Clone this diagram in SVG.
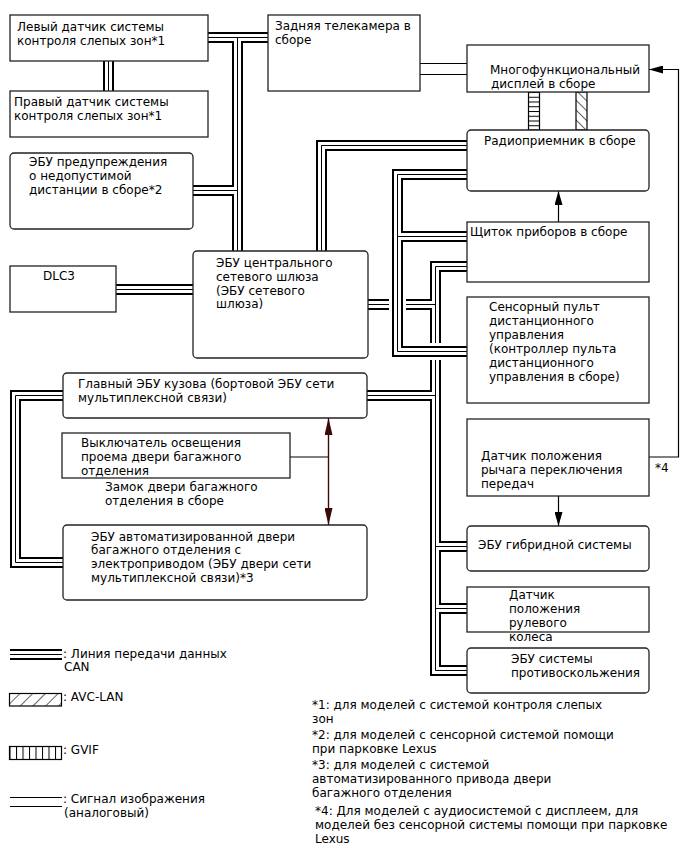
<svg xmlns="http://www.w3.org/2000/svg" width="688" height="852" viewBox="0 0 688 852">
<style>
text{font-family:"DejaVu Sans","Noto Sans",sans-serif;font-size:12px;fill:#000}
.box{fill:#fff;stroke:#222;stroke-width:1.3}
.co{fill:none;stroke:#000;stroke-width:11}
.cw{fill:none;stroke:#fff;stroke-width:7}
.ct{fill:none;stroke:#000;stroke-width:1}
.halo{fill:none;stroke:#fff;stroke-width:17}
.ln{fill:none;stroke:#000;stroke-width:1.2}
.mr{fill:none;stroke:#3a0a0a;stroke-width:1.4}
.strip{stroke:#000;stroke-width:1.2}
</style>
<defs>
<marker id="ah" viewBox="0 0 14 8" refX="14" refY="4" markerWidth="14" markerHeight="8" markerUnits="userSpaceOnUse" orient="auto"><path d="M0,0 L14,4 L0,8 z" fill="#000"/></marker>
<marker id="am" viewBox="0 0 17 8" refX="17" refY="4" markerWidth="17" markerHeight="8" markerUnits="userSpaceOnUse" orient="auto-start-reverse"><path d="M0,0 L17,4 L0,8 z" fill="#3a0a0a"/></marker>
<pattern id="gvifH" patternUnits="userSpaceOnUse" width="20" height="4.75" x="0" y="92"><line x1="0" y1="0.5" x2="20" y2="0.5" stroke="#000" stroke-width="1"/></pattern>
<pattern id="gvifV" patternUnits="userSpaceOnUse" width="6.5" height="20" x="9.5" y="0"><line x1="0.5" y1="0" x2="0.5" y2="20" stroke="#000" stroke-width="1"/></pattern>
<pattern id="avcD" patternUnits="userSpaceOnUse" width="7" height="7" patternTransform="rotate(-45)"><line x1="0" y1="0" x2="0" y2="7" stroke="#000" stroke-width="1.2"/></pattern>
<pattern id="avcL" patternUnits="userSpaceOnUse" width="9" height="9" patternTransform="rotate(45)"><line x1="0" y1="0" x2="0" y2="9" stroke="#000" stroke-width="1.2"/></pattern>
<g id="busMain">
<path d="M208,37.5 H268 M237.5,37.5 V251 M193,190.5 H237.5 M108.5,61 V91"/>
<path d="M116,289.5 H193"/>
<path d="M321.5,251 V145.5 H467"/>
<path d="M63,395.5 H15.5 V562.5 H63"/>
<path d="M467,266.5 H435.5 V670.5 H467 M368,304.5 H435.5 M367,395.5 H435.5 M435.5,546.5 H467 M435.5,608.5 H467"/>
<path d="M10,654.5 H62"/>
</g>
<g id="busTop">
<path d="M467,174.5 H397.5 V351.5 H467 M397.5,236.5 H467"/>
</g>
</defs>

<g id="connectors">
<use href="#busMain" class="co"/>
<use href="#busMain" class="cw"/>
<use href="#busMain" class="ct"/>
<use href="#busTop" class="halo"/>
<use href="#busTop" class="co"/>
<use href="#busTop" class="cw"/>
<use href="#busTop" class="ct"/>
<path class="ln" d="M420,63.5 H467 M420,74.5 H467"/>
<rect class="strip" x="528.5" y="92" width="11" height="38" fill="url(#gvifH)"/>
<rect class="strip" x="576" y="92" width="11" height="38" fill="url(#avcD)"/>
<path class="ln" d="M558.5,222 V191" marker-end="url(#ah)"/>
<path class="ln" d="M558.5,496 V526" marker-end="url(#ah)"/>
<path class="ln" d="M649,457 H678.5 V69.5 H649" marker-end="url(#ah)"/>
<path class="ln" d="M290,457 H328.5"/>
<path class="mr" d="M328.5,418 V525" marker-start="url(#am)" marker-end="url(#am)"/>
</g>

<g id="n-lbsm"><rect class="box" x="10" y="15" width="198" height="46"/><text x="17" y="30.5">Левый датчик системы</text><text x="17" y="44.5">контроля слепых зон*1</text></g>
<g id="n-rbsm"><rect class="box" x="10" y="91" width="198" height="46"/><text x="14" y="105.5">Правый датчик системы</text><text x="14" y="120">контроля слепых зон*1</text></g>
<g id="n-camera"><rect class="box" x="268" y="15" width="152" height="76"/><text x="275" y="29.5">Задняя телекамера в</text><text x="275" y="43.5">сборе</text></g>
<g id="n-display"><rect class="box" x="467" y="45" width="182" height="47"/><text x="490" y="74">Многофункциональный</text><text x="491" y="87.5">дисплей в сборе</text></g>
<g id="n-radio"><rect class="box" x="467" y="130" width="182" height="61" rx="4"/><text x="484" y="144.5">Радиоприемник в сборе</text></g>
<g id="n-pcs"><rect class="box" x="10" y="153" width="183" height="76" rx="4"/><text x="29" y="165.5">ЭБУ предупреждения</text><text x="29" y="179.5">о недопустимой</text><text x="29" y="194">дистанции в сборе*2</text></g>
<g id="n-dlc3"><rect class="box" x="10" y="266" width="106" height="46"/><text x="43" y="280">DLC3</text></g>
<g id="n-gateway"><rect class="box" x="193" y="251" width="175" height="107" rx="4"/><text x="216" y="266.5">ЭБУ центрального</text><text x="216" y="280.5">сетевого шлюза</text><text x="216" y="294.5">(ЭБУ сетевого</text><text x="216" y="308">шлюза)</text></g>
<g id="n-meter"><rect class="box" x="467" y="222" width="182" height="60"/><text x="470" y="236">Щиток приборов в сборе</text></g>
<g id="n-touch"><rect class="box" x="467" y="297" width="182" height="106"/><text x="489" y="311">Сенсорный пульт</text><text x="489" y="324.5">дистанционного</text><text x="489" y="338.5">управления</text><text x="489" y="352.5">(контроллер пульта</text><text x="489" y="366.5">дистанционного</text><text x="489" y="380.5">управления в сборе)</text></g>
<g id="n-body"><rect class="box" x="63" y="373" width="304" height="45" rx="4"/><text x="78" y="387.5">Главный ЭБУ кузова (бортовой ЭБУ сети</text><text x="78" y="401.5">мультиплексной связи)</text></g>
<g id="n-switch"><rect class="box" x="62" y="433" width="228" height="45"/><text x="81" y="447">Выключатель освещения</text><text x="81" y="461">проема двери багажного</text><text x="81" y="474.5">отделения</text></g>
<g id="n-lock"><text x="105" y="491">Замок двери багажного</text><text x="105" y="504.5">отделения в сборе</text></g>
<g id="n-shift"><rect class="box" x="467" y="419" width="182" height="77"/><text x="481" y="460">Датчик положения</text><text x="481" y="474">рычага переключения</text><text x="481" y="488">передач</text></g>
<g id="n-note4"><text x="655" y="472">*4</text></g>
<g id="n-pbd"><rect class="box" x="63" y="525" width="304" height="75" rx="4"/><text x="91" y="540.5">ЭБУ автоматизированной двери</text><text x="91" y="554">багажного отделения с</text><text x="91" y="567.5">электроприводом (ЭБУ двери сети</text><text x="91" y="581.5">мультиплексной связи)*3</text></g>
<g id="n-hv"><rect class="box" x="467" y="526" width="182" height="45" rx="4"/><text x="478" y="548.5">ЭБУ гибридной системы</text></g>
<g id="n-steer"><rect class="box" x="467" y="587" width="182" height="45"/><text x="509" y="598.5">Датчик</text><text x="509" y="612.5">положения</text><text x="509" y="626.5">рулевого</text><text x="509" y="640.5">колеса</text></g>
<g id="n-skid"><rect class="box" x="467" y="648" width="182" height="45" rx="4"/><text x="511" y="662.5">ЭБУ системы</text><text x="511" y="676.5">противоскольжения</text></g>

<g id="legend">
<text x="63" y="657.5">: Линия передачи данных</text><text x="64" y="670.5">CAN</text>
<rect class="strip" x="9.5" y="693.5" width="52" height="12.5" fill="url(#avcL)"/>
<text x="63" y="701">: AVC-LAN</text>
<rect class="strip" x="9.5" y="746.5" width="52" height="13" fill="url(#gvifV)"/>
<text x="63" y="753.5">: GVIF</text>
<path class="ln" d="M10,797.5 H62 M10,806.5 H62"/>
<text x="63" y="802.5">: Сигнал изображения</text><text x="64" y="816.5">(аналоговый)</text>
</g>

<g id="notes">
<text x="312" y="708.5">*1: для моделей с системой контроля слепых</text>
<text x="312" y="722.5">зон</text>
<text x="312" y="738.5">*2: для моделей с сенсорной системой помощи</text>
<text x="312" y="752.5">при парковке Lexus</text>
<text x="312" y="769">*3: для моделей с системой</text>
<text x="312" y="782.5">автоматизированного привода двери</text>
<text x="312" y="796.5">багажного отделения</text>
<text x="315" y="815">*4: Для моделей с аудиосистемой с дисплеем, для</text>
<text x="315" y="828.5">моделей без сенсорной системы помощи при парковке</text>
<text x="315" y="842.5">Lexus</text>
</g>
</svg>
